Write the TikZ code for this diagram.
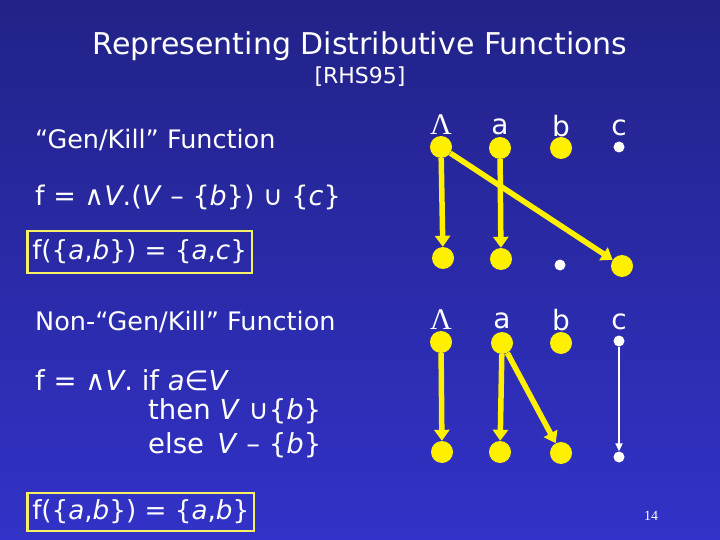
\documentclass[tikz,border=0pt]{standalone}
\usepackage{fontspec}
\setmainfont{DejaVu Sans}
\newfontfamily\serifL{Liberation Serif}
\usetikzlibrary{arrows.meta}
\definecolor{bgtop}{RGB}{34,34,136}
\definecolor{bgbot}{RGB}{50,50,200}
\definecolor{dotyel}{RGB}{255,240,0}
\definecolor{boxyel}{RGB}{245,240,100}
\tikzset{
  txt/.style={text=white, inner sep=0pt, anchor=west},
  big/.style={circle, fill=dotyel, minimum size=22pt, inner sep=0pt},
  small/.style={circle, fill=white, minimum size=11pt, inner sep=0pt},
  lbl/.style={text=white, inner sep=0pt, font=\fontsize{28}{30}\selectfont},
  yarr/.style={draw=dotyel, line width=5.5pt, -{Triangle[width=15pt,length=11pt]}},
  warr/.style={draw=white, line width=2pt, -{Triangle[width=7pt,length=8pt]}},
  resbox/.style={draw=boxyel, line width=2.5pt, text=white, inner xsep=5pt, anchor=west, text height=21pt, text depth=7pt, font=\fontsize{26.2}{30}\selectfont}
}
\begin{document}
\begin{tikzpicture}[x=1pt,y=-1pt]
\shade[top color=bgtop, bottom color=bgbot] (0,0) rectangle (720,540);
\useasboundingbox (0,0) rectangle (720,540);
% title
\node[text=white, inner sep=0pt, font=\fontsize{30}{32}\selectfont] (title) at (360,46) {Representing Distributive Functions};
\node[text=white, inner sep=0pt, font=\fontsize{22}{24}\selectfont] (ref) at (360,77) {[RHS95]};
% left texts
\node[txt, font=\fontsize{25.5}{28}\selectfont] (gk) at (35,140) {“Gen/Kill” Function};
\node[txt, font=\fontsize{27}{30}\selectfont] (f1) at (35,197) {f = ∧\textit{V}.(\textit{V} – \{\textit{b}\}) ∪ \{\textit{c}\}};
\node[resbox, inner ysep=7pt] (r1) at (26,252) {f(\{\textit{a},\textit{b}\}) = \{\textit{a},\textit{c}\}};
\node[txt, font=\fontsize{25.5}{28}\selectfont] (ngk) at (35,322) {Non-“Gen/Kill” Function};
\node[txt, font=\fontsize{27.5}{30}\selectfont] (f2a) at (35,380) {f = ∧\textit{V}. if \textit{a}∈\textit{V}};
\node[txt, font=\fontsize{27.5}{30}\selectfont] (f2b) at (148,411) {then \textit{V} ∪\{\textit{b}\}};
\node[txt, font=\fontsize{27.5}{30}\selectfont] (f2c) at (148,445) {else\, \textit{V} – \{\textit{b}\}};
\node[resbox, inner ysep=5pt] (r2) at (26,512) {f(\{\textit{a},\textit{b}\}) = \{\textit{a},\textit{b}\}};
\node[text=white, inner sep=0pt, font=\serifL\fontsize{14}{16}\selectfont] (pg) at (651,516) {14};
% graph 1
\node[lbl, font=\serifL\fontsize{30}{32}\selectfont] (l1L) at (441,125) {Λ};
\node[lbl] (l1a) at (500,127) {a};
\node[lbl] (l1b) at (561,126) {b};
\node[lbl] (l1c) at (619,128) {c};
\node[big] (t1L) at (441,147) {};
\node[big] (t1a) at (500,148) {};
\node[big] (t1b) at (561,148) {};
\node[small] (t1c) at (619,147) {};
\node[big] (b1L) at (443,258) {};
\node[big] (b1a) at (501,259) {};
\node[small] (b1b) at (560,265) {};
\node[big] (b1c) at (622,266) {};
\draw[yarr] (t1L) -- (b1L);
\draw[yarr] (t1a) -- (b1a);
\draw[yarr] (t1L) -- (b1c);
% graph 2
\node[lbl, font=\serifL\fontsize{30}{32}\selectfont] (l2L) at (441,320) {Λ};
\node[lbl] (l2a) at (502,321) {a};
\node[lbl] (l2b) at (561,320) {b};
\node[lbl] (l2c) at (619,322) {c};
\node[big] (t2L) at (441,342) {};
\node[big] (t2a) at (502,343) {};
\node[big] (t2b) at (561,343) {};
\node[small] (t2c) at (619,341) {};
\node[big] (b2L) at (442,452) {};
\node[big] (b2a) at (500,452) {};
\node[big] (b2b) at (561,453) {};
\node[small] (b2c) at (619,457) {};
\draw[yarr] (t2L) -- (b2L);
\draw[yarr] (t2a) -- (b2a);
\draw[yarr] (t2a) -- (b2b);
\draw[warr] (t2c) -- (b2c);
\end{tikzpicture}
\end{document}
